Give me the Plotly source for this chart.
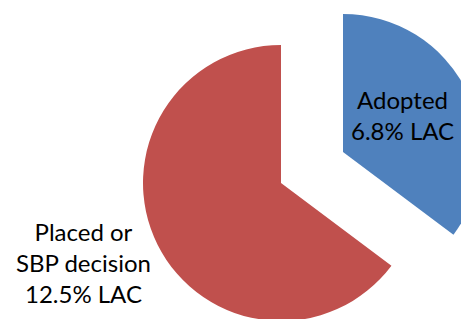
import plotly.graph_objects as go

# Data
categories = ["Adopted", "Placed or SBP decision"]
values = [6.8, 12.5]
label_texts = ["Adopted<br>6.8% LAC", "Placed or<br>SBP decision<br>12.5% LAC"]

BLUE = "#4F81BD"
RED = "#C0504D"
CLEAR = "rgba(0,0,0,0)"

# Figure is slightly larger than the window so that the pie is cropped
# at the right and bottom edges, like the reference.
W, H = 490, 330
OFF = 8  # page body margin


def dom_x(a, b):
    return [(a - OFF) / W, (b - OFF) / W]


def dom_y(top, bottom):
    return [1 - (bottom - OFF) / H, 1 - (top - OFF) / H]


def px(x):
    return (x - OFF) / W


def py(y):
    return 1 - (y - OFF) / H


fig = go.Figure()

# Main pie: only the "Placed or SBP decision" slice is visible here
fig.add_trace(go.Pie(
    labels=categories, values=values, sort=False, direction="clockwise", rotation=0,
    marker=dict(colors=[CLEAR, RED], line=dict(width=0)),
    textinfo="none", hoverinfo="label+value", showlegend=False,
    domain=dict(x=dom_x(143, 419), y=dom_y(45, 321)),
))

# Exploded "Adopted" slice: same pie shifted outward along the slice's mid-angle
fig.add_trace(go.Pie(
    labels=categories, values=values, sort=False, direction="clockwise", rotation=0,
    marker=dict(colors=[BLUE, CLEAR], line=dict(width=0)),
    textinfo="none", hoverinfo="label+value", showlegend=False,
    domain=dict(x=dom_x(205, 481), y=dom_y(14, 290)),
))

font = dict(family="Lato, Open Sans, sans-serif", size=24, color="#000000")
fig.add_annotation(text=label_texts[0], x=px(402), y=py(115), xref="paper", yref="paper",
                   xanchor="center", yanchor="middle", showarrow=False, font=font)
fig.add_annotation(text=label_texts[1], x=px(83), y=py(262), xref="paper", yref="paper",
                   xanchor="center", yanchor="middle", showarrow=False, font=font)

fig.update_layout(width=W, height=H, margin=dict(l=0, r=0, t=0, b=0),
                  paper_bgcolor="white", plot_bgcolor="white")

fig.write_html("out.html")
